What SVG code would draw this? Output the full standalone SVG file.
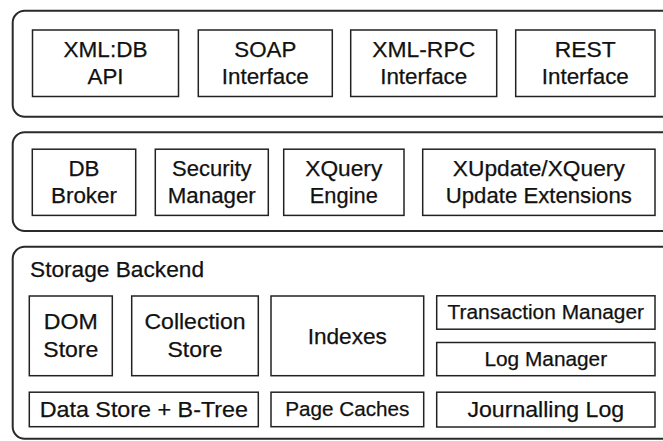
<svg xmlns="http://www.w3.org/2000/svg" width="663" height="441" viewBox="0 0 663 441">
<style>
.layer{fill:#fff;stroke:#2a2a2a;stroke-width:2}
.box{fill:#fff;stroke:#222;stroke-width:1.5}
text{font-family:"Liberation Sans",Arial,sans-serif;fill:#111;stroke:#111;stroke-width:0.25;text-anchor:middle}
.m{font-size:22px}
.b{font-size:22.8px}
.s{font-size:20.5px}
</style>
<rect width="663" height="441" fill="#fff"/>
<g id="layer-interfaces">
<rect class="layer" x="12.7" y="10.7" width="700" height="106" rx="12"/>
</g>
<g id="layer-core">
<rect class="layer" x="12.7" y="132.3" width="700" height="98.7" rx="12"/>
</g>
<g id="layer-storage">
<rect class="layer" x="12.7" y="246.7" width="700" height="192" rx="12"/>
<text class="b" x="30" y="277" style="text-anchor:start" textLength="174" lengthAdjust="spacingAndGlyphs">Storage Backend</text>
</g>
<g id="xmldb-api">
<rect class="box" x="32.5" y="30" width="146" height="66.5"/>
<text class="m" x="105.5" y="57.3" textLength="84" lengthAdjust="spacingAndGlyphs">XML:DB</text>
<text class="m" x="105.5" y="84" textLength="36" lengthAdjust="spacingAndGlyphs">API</text>
</g>
<g id="soap-interface">
<rect class="box" x="198.3" y="30" width="134" height="66.5"/>
<text class="m" x="265.3" y="57.3" textLength="62" lengthAdjust="spacingAndGlyphs">SOAP</text>
<text class="m" x="265.3" y="84" textLength="87" lengthAdjust="spacingAndGlyphs">Interface</text>
</g>
<g id="xmlrpc-interface">
<rect class="box" x="350.7" y="30" width="146" height="66.5"/>
<text class="m" x="423.7" y="57.3" textLength="103" lengthAdjust="spacingAndGlyphs">XML-RPC</text>
<text class="m" x="423.7" y="84" textLength="87" lengthAdjust="spacingAndGlyphs">Interface</text>
</g>
<g id="rest-interface">
<rect class="box" x="515.7" y="30" width="139.3" height="66.5"/>
<text class="m" x="585.3" y="57.3" textLength="61" lengthAdjust="spacingAndGlyphs">REST</text>
<text class="m" x="585.3" y="84" textLength="87" lengthAdjust="spacingAndGlyphs">Interface</text>
</g>
<g id="db-broker">
<rect class="box" x="32.3" y="149.2" width="103.4" height="66.2"/>
<text class="m" x="84" y="175.7" textLength="31" lengthAdjust="spacingAndGlyphs">DB</text>
<text class="m" x="84" y="203.3" textLength="66" lengthAdjust="spacingAndGlyphs">Broker</text>
</g>
<g id="security-manager">
<rect class="box" x="155.3" y="149.2" width="113" height="66.2"/>
<text class="m" x="211.8" y="175.7" textLength="79.5" lengthAdjust="spacingAndGlyphs">Security</text>
<text class="m" x="211.8" y="203.3" textLength="88" lengthAdjust="spacingAndGlyphs">Manager</text>
</g>
<g id="xquery-engine">
<rect class="box" x="283.7" y="149.2" width="120.3" height="66.2"/>
<text class="m" x="343.8" y="175.7" textLength="77" lengthAdjust="spacingAndGlyphs">XQuery</text>
<text class="m" x="343.8" y="203.3" textLength="68" lengthAdjust="spacingAndGlyphs">Engine</text>
</g>
<g id="xupdate-extensions">
<rect class="box" x="422.7" y="149.2" width="232.3" height="66.2"/>
<text class="m" x="538.8" y="175.7" textLength="172" lengthAdjust="spacingAndGlyphs">XUpdate/XQuery</text>
<text class="m" x="538.8" y="203.3" textLength="186" lengthAdjust="spacingAndGlyphs">Update Extensions</text>
</g>
<g id="dom-store">
<rect class="box" x="29.3" y="296" width="83" height="79.7"/>
<text class="m" x="70.8" y="329" textLength="54" lengthAdjust="spacingAndGlyphs">DOM</text>
<text class="m" x="70.8" y="356.7" textLength="55" lengthAdjust="spacingAndGlyphs">Store</text>
</g>
<g id="collection-store">
<rect class="box" x="131.7" y="296" width="126.6" height="79.7"/>
<text class="m" x="195" y="329" textLength="101" lengthAdjust="spacingAndGlyphs">Collection</text>
<text class="m" x="195" y="356.7" textLength="55" lengthAdjust="spacingAndGlyphs">Store</text>
</g>
<g id="indexes">
<rect class="box" x="271" y="296" width="152.7" height="79.7"/>
<text class="b" x="347.3" y="343.5" textLength="79.3" lengthAdjust="spacingAndGlyphs">Indexes</text>
</g>
<g id="transaction-manager">
<rect class="box" x="436.7" y="295.8" width="218.3" height="33.4"/>
<text class="s" x="545.8" y="319" textLength="196.5" lengthAdjust="spacingAndGlyphs">Transaction Manager</text>
</g>
<g id="log-manager">
<rect class="box" x="436.7" y="342.5" width="218.3" height="33.2"/>
<text class="s" x="545.8" y="365.7" textLength="122.7" lengthAdjust="spacingAndGlyphs">Log Manager</text>
</g>
<g id="data-store-btree">
<rect class="box" x="29.3" y="392.2" width="229" height="34.5"/>
<text class="b" x="143.8" y="417" textLength="208.3" lengthAdjust="spacingAndGlyphs">Data Store + B-Tree</text>
</g>
<g id="page-caches">
<rect class="box" x="271" y="392.2" width="152.7" height="34.5"/>
<text class="s" x="347.3" y="416" textLength="124.3" lengthAdjust="spacingAndGlyphs">Page Caches</text>
</g>
<g id="journalling-log">
<rect class="box" x="436.7" y="392.2" width="218.3" height="34.8"/>
<text class="b" x="545.8" y="417" textLength="156.7" lengthAdjust="spacingAndGlyphs">Journalling Log</text>
</g>
</svg>
